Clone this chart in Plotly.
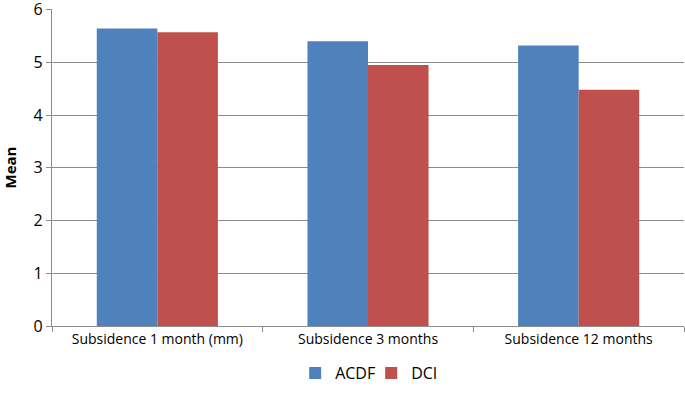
import plotly.graph_objects as go

categories = ["Subsidence 1 month (mm)", "Subsidence 3 months", "Subsidence 12 months"]
acdf = [5.64, 5.40, 5.32]
dci = [5.57, 4.95, 4.48]
y_ticks = [0, 1, 2, 3, 4, 5, 6]

fig = go.Figure()
fig.add_trace(go.Bar(name="ACDF", x=categories, y=acdf, marker=dict(color="#4F81BD", line=dict(width=0))))
fig.add_trace(go.Bar(name="DCI", x=categories, y=dci, marker=dict(color="#C0504D", line=dict(width=0))))

fig.update_layout(
    width=685, height=405,
    margin=dict(l=52, r=1, t=9, b=79, autoexpand=False),
    paper_bgcolor="white", plot_bgcolor="white",
    barmode="group", bargap=0.425, bargroupgap=0,
    font=dict(family="Open Sans, Liberation Sans, sans-serif", color="black"),
    showlegend=True,
    legend=dict(orientation="h", x=0.505, xanchor="center", y=-0.095, yanchor="top",
                font=dict(size=16), itemwidth=30, entrywidth=31, entrywidthmode="pixels",
                traceorder="normal"),
)
fig.update_xaxes(
    showline=True, linecolor="#8c8c8c", linewidth=1.3,
    ticks="outside", tickson="boundaries", ticklen=5, tickcolor="#8c8c8c",
    tickfont=dict(size=14), showgrid=False, automargin=False,
)
fig.update_yaxes(
    range=[0, 6.01], tickvals=y_ticks,
    showline=True, linecolor="#8c8c8c", linewidth=1.3,
    ticks="outside", ticklen=5, tickcolor="#8c8c8c",
    showgrid=True, gridcolor="#8c8c8c", gridwidth=1.3,
    tickfont=dict(size=16), automargin=False, ticklabeloverflow="allow",
    title=dict(text="<b>Mean</b>", font=dict(size=15), standoff=14),
    zeroline=False,
)
fig.write_html("out.html", config={"displayModeBar": False},
               post_script="document.body.style.margin='0';")
